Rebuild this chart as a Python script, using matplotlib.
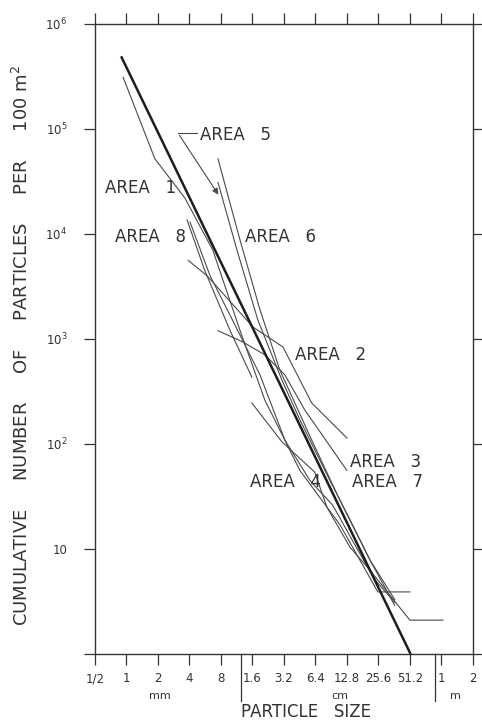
import numpy as np
import matplotlib
matplotlib.use("Agg")
from matplotlib import pyplot as plt
from matplotlib import transforms

# particle size (mm) vs cumulative number of particles per 100 m^2
fit_size = [0.9, 520]
fit_n = [4.8e5, 1.0]

area1_size = [0.93, 1.87, 3.62, 6.7, 12.2, 21, 45.5, 110, 253, 512]
area1_n = [3.1e5, 5.2e4, 2.2e4, 7.0e3, 1.2e3, 263, 56, 17, 3.9, 3.9]
area2_size = [3.9, 5.9, 16.2, 31.3, 59, 128]
area2_n = [5.6e3, 4.0e3, 1.3e3, 840, 246, 114]
area3_size = [7.5, 13.0, 21, 32.7, 50.8, 128]
area3_n = [1.2e3, 935, 707, 455, 210, 56]
area4_size = [15.8, 30.6, 63, 82.5, 137, 212, 512, 1060]
area4_n = [246, 105, 54, 25, 10.4, 6.3, 2.1, 2.1]
area5_size = [7.5, 11.4, 18.1, 30.6, 45.5, 88, 137, 212, 367]
area5_n = [3.1e4, 7.0e3, 1.5e3, 407, 170, 45, 19, 7.9, 3.3]
area6_size = [7.5, 12.2, 18.9, 29.3, 59, 110, 212, 367]
area6_n = [5.2e4, 8.7e3, 1.9e3, 505, 109, 29, 7.9, 2.9]
area7_size = [4.05, 6.3, 10.9, 18.9, 32.7, 56.7, 94, 153, 237, 367]
area7_n = [1.3e4, 4.0e3, 1.36e3, 455, 109, 45, 26, 10.9, 5.1, 3.1]
area8_size = [3.8, 5.6, 9.8, 15.8]
area8_n = [1.36e4, 4.5e3, 1.2e3, 433]

x_ticks = [0.5, 1, 2, 4, 8, 16, 32, 64, 128, 256, 512, 1024, 2048]
x_labels = ["1/2", "1", "2", "4", "8", "1.6", "3.2", "6.4", "12.8",
            "25.6", "51.2", "1", "2"]
y_ticks = [1, 10, 100, 1e3, 1e4, 1e5, 1e6]
y_labels = ["", "10", r"$10^{2}$", r"$10^{3}$", r"$10^{4}$", r"$10^{5}$", r"$10^{6}$"]

fig = plt.figure(figsize=(4.82, 7.22), dpi=100)
ax = fig.add_axes([0.197, 0.0942, 0.784, 0.8726])

thin = dict(color="#4a4a4a", lw=0.8)
for s, n in [(area1_size, area1_n), (area2_size, area2_n), (area3_size, area3_n),
             (area4_size, area4_n), (area5_size, area5_n), (area6_size, area6_n),
             (area7_size, area7_n), (area8_size, area8_n)]:
    ax.plot(s, n, **thin)
ax.plot(fit_size, fit_n, color="#1e1e1e", lw=1.8)

ax.set_xscale("log", base=2)
ax.set_yscale("log")
ax.set_xlim(0.5, 2048)
ax.set_ylim(1, 1e6)
ax.set_xticks(x_ticks)
ax.set_xticklabels(x_labels, fontsize=8.5, color="#333333")
ax.set_yticks(y_ticks)
ax.set_yticklabels(y_labels, fontsize=8.5, color="#333333")
ax.xaxis.set_minor_locator(plt.NullLocator())
ax.yaxis.set_minor_locator(plt.NullLocator())
ax.tick_params(axis="x", top=True, direction="out", length=8, width=0.9, pad=5, colors="#333333")
ax.tick_params(axis="y", right=True, direction="out", length=8, width=0.9, pad=12, colors="#333333")
for sp in ax.spines.values():
    sp.set_linewidth(1.0)
    sp.set_color("#333333")

# unit separators below the axis
trans = transforms.blended_transform_factory(ax.transData, ax.transAxes)
for xs in [12.5, 900]:
    ax.plot([xs, xs], [0, -0.075], transform=trans, clip_on=False, color="#333333", lw=0.9)
ax.text(2.1, -0.066, "mm", transform=trans, ha="center", va="center", fontsize=8, color="#333333")
ax.text(110, -0.066, "cm", transform=trans, ha="center", va="center", fontsize=8, color="#333333")
ax.text(1400, -0.066, "m", transform=trans, ha="center", va="center", fontsize=8, color="#333333")

lab = dict(transform=ax.transAxes, fontsize=12, color="#333333", va="center", ha="left")
ax.text(0.278, 0.824, "AREA   5", **lab)
ax.text(0.026, 0.740, "AREA   1", **lab)
ax.text(0.053, 0.662, "AREA   8", **lab)
ax.text(0.397, 0.662, "AREA   6", **lab)
ax.text(0.529, 0.475, "AREA   2", **lab)
ax.text(0.675, 0.305, "AREA   3", **lab)
ax.text(0.410, 0.273, "AREA   4", **lab)
ax.text(0.680, 0.273, "AREA   7", **lab)

ax.plot([0.2196, 0.270], [0.827, 0.827], transform=ax.transAxes, color="#4a4a4a", lw=0.8)
ax.annotate("", xy=(0.3307, 0.7254), xytext=(0.2196, 0.827),
            xycoords="axes fraction", textcoords="axes fraction",
            arrowprops=dict(arrowstyle="-|>", color="#4a4a4a", lw=0.8, mutation_scale=9))

fig.text(0.046, 0.522, "CUMULATIVE     NUMBER     OF     PARTICLES     PER     100 m$^2$",
         rotation=90, ha="center", va="center", fontsize=13, color="#333333")
fig.text(0.635, 0.014, "PARTICLE   SIZE", ha="center", va="center", fontsize=12, color="#333333")

fig.savefig("out.png", dpi=100)
